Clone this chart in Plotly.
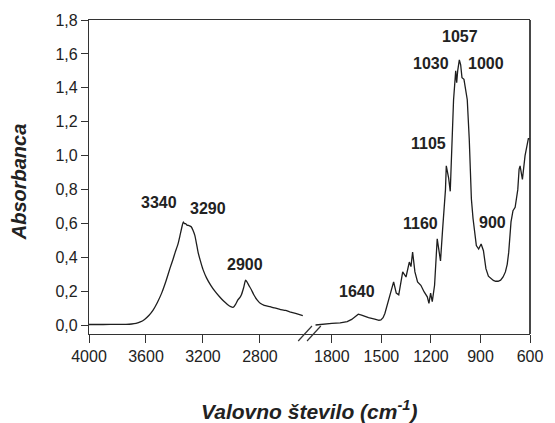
import plotly.graph_objects as go

# Left segment (high wavenumber)
wn_left = [4000, 3900, 3800, 3740, 3700, 3670, 3640, 3610, 3580, 3550, 3520, 3490, 3460, 3430,
           3410, 3395, 3375, 3361, 3345, 3338, 3330, 3322, 3312, 3303, 3290, 3281, 3270, 3257,
           3245, 3234, 3218, 3200, 3175, 3145, 3115, 3085, 3055, 3028, 3005, 2986, 2970, 2955,
           2940, 2930, 2915, 2901, 2890, 2878, 2860, 2843, 2820, 2798, 2770, 2729, 2700, 2660,
           2620, 2591, 2550, 2499]
abs_left = [0.005, 0.005, 0.006, 0.006, 0.008, 0.012, 0.02, 0.035, 0.058, 0.09, 0.135, 0.19, 0.26,
            0.34, 0.39, 0.43, 0.48, 0.53, 0.59, 0.61, 0.60, 0.60, 0.59, 0.59, 0.585, 0.58, 0.56,
            0.53, 0.48, 0.43, 0.38, 0.33, 0.28, 0.236, 0.2, 0.17, 0.143, 0.123, 0.11, 0.107, 0.125,
            0.15, 0.165, 0.18, 0.22, 0.266, 0.255, 0.236, 0.21, 0.18, 0.15, 0.13, 0.118, 0.11,
            0.103, 0.094, 0.088, 0.08, 0.07, 0.057]

# Right segment (fingerprint region)
wn_right = [1899, 1850, 1800, 1750, 1707, 1680, 1660, 1640, 1620, 1600, 1578, 1540, 1515, 1503,
            1490, 1479, 1465, 1450, 1440, 1426, 1410, 1395, 1371, 1351, 1331, 1321, 1311, 1297,
            1281, 1261, 1241, 1222, 1212, 1202, 1192, 1178, 1162, 1152, 1142, 1129, 1112, 1107,
            1093, 1083, 1070, 1063, 1050, 1044, 1038, 1028, 1020, 1012, 1000, 988, 980, 968, 955,
            945, 925, 911, 896, 882, 867, 852, 837, 822, 808, 793, 778, 763, 749, 738, 729, 715,
            703, 690, 674, 666, 660, 646, 630, 610, 600]
abs_right = [0.002, 0.008, 0.012, 0.015, 0.022, 0.035, 0.05, 0.066, 0.06, 0.052, 0.045, 0.036, 0.03,
             0.032, 0.045, 0.07, 0.12, 0.18, 0.2, 0.256, 0.19, 0.18, 0.315, 0.285, 0.373, 0.346,
             0.432, 0.315, 0.256, 0.236, 0.197, 0.168, 0.13, 0.19, 0.14, 0.236, 0.51, 0.43, 0.38,
             0.57, 0.80, 0.94, 0.87, 0.79, 1.1, 1.33, 1.50, 1.43, 1.50, 1.565, 1.536, 1.46, 1.45,
             1.38, 1.33, 1.10, 0.745, 0.63, 0.47, 0.45, 0.48, 0.44, 0.334, 0.29, 0.275, 0.265, 0.26,
             0.26, 0.266, 0.285, 0.315, 0.36, 0.43, 0.61, 0.676, 0.696, 0.80, 0.92, 0.94, 0.86, 1.0,
             1.10, 1.10]

ticks_left = [4000, 3600, 3200, 2800]
ticks_right = [1800, 1500, 1200, 900, 600]
y_ticks = [0.0, 0.2, 0.4, 0.6, 0.8, 1.0, 1.2, 1.4, 1.6, 1.8]

# Peak labels: (text, axis, x, y)
peak_labels = [("3340", "x", 3510, 0.725), ("3290", "x", 3166, 0.691), ("2900", "x", 2903, 0.358),
               ("1640", "x2", 1647, 0.197), ("1160", "x2", 1265, 0.602), ("900", "x2", 826, 0.608),
               ("1057", "x2", 1023, 1.702), ("1030", "x2", 1202, 1.546), ("1000", "x2", 869, 1.546),
               ("1105", "x2", 1216, 1.071)]

FONT = "Liberation Sans, Arial, sans-serif"
LINE = "#1e1e1e"
AX = "#333333"

fig = go.Figure()
fig.add_trace(go.Scatter(x=wn_left, y=abs_left, mode="lines", xaxis="x", yaxis="y",
                         line=dict(color=LINE, width=1.3, shape="spline", smoothing=0.4),
                         showlegend=False))
fig.add_trace(go.Scatter(x=wn_right, y=abs_right, mode="lines", xaxis="x2", yaxis="y",
                         line=dict(color=LINE, width=1.3), showlegend=False))

axis_common = dict(showgrid=False, zeroline=False, showline=True, linecolor=AX, linewidth=1.2,
                   ticks="outside", ticklen=8, tickcolor=AX, tickwidth=1.2, mirror=True,
                   tickfont=dict(family=FONT, size=16, color="#222"))

fig.update_layout(
    width=555, height=423,
    margin=dict(l=89, r=17, t=20, b=89),
    paper_bgcolor="white", plot_bgcolor="white",
    separators=",.",
    xaxis=dict(domain=[0, 0.5], range=[4000, 2452], tickvals=ticks_left, anchor="y", **axis_common),
    xaxis2=dict(domain=[0.5, 1], range=[1935.5, 600], tickvals=ticks_right, anchor="y", **axis_common),
    yaxis=dict(range=[-0.051, 1.8], tickvals=y_ticks, tickformat=".1f", anchor="x",
               showgrid=False, zeroline=False, showline=True, linecolor=AX, linewidth=1.2,
               ticks="outside", ticklen=7, tickcolor=AX, tickwidth=1.2,
               tickfont=dict(family=FONT, size=16, color="#222")),
)

for txt, ax, x, y in peak_labels:
    fig.add_annotation(text="<b>" + txt + "</b>", x=x, y=y, xref=ax, yref="y", showarrow=False,
                       font=dict(family=FONT, size=16, color="#222"))

# axis titles
fig.add_annotation(text="<b><i>Valovno število (cm<sup>-1</sup>)</i></b>", xref="paper", yref="paper",
                   x=0.5, y=(334 - 410) / 314, showarrow=False, xanchor="center", yanchor="middle",
                   font=dict(family=FONT, size=21, color="#222"))
fig.add_annotation(text="<b><i>Absorbanca</i></b>", xref="paper", yref="paper",
                   x=(18 - 89) / 449, y=(334 - 182) / 314, showarrow=False, textangle=-90,
                   xanchor="center", yanchor="middle",
                   font=dict(family=FONT, size=20, color="#222"))

# right frame line
fig.add_shape(type="line", xref="paper", yref="paper", x0=1, x1=1, y0=0, y1=1,
              line=dict(color=AX, width=1.8))

# axis break marks
def px(xp):
    return (xp - 89) / 449

def py(yp):
    return (334 - yp) / 314

for (x0, y0, x1, y1) in [(302, 341, 316, 326), (311, 341, 325, 326)]:
    fig.add_shape(type="line", xref="paper", yref="paper", x0=px(x0), y0=py(y0), x1=px(x1), y1=py(y1),
                  line=dict(color=AX, width=1.2))

fig.write_html("out.html")
